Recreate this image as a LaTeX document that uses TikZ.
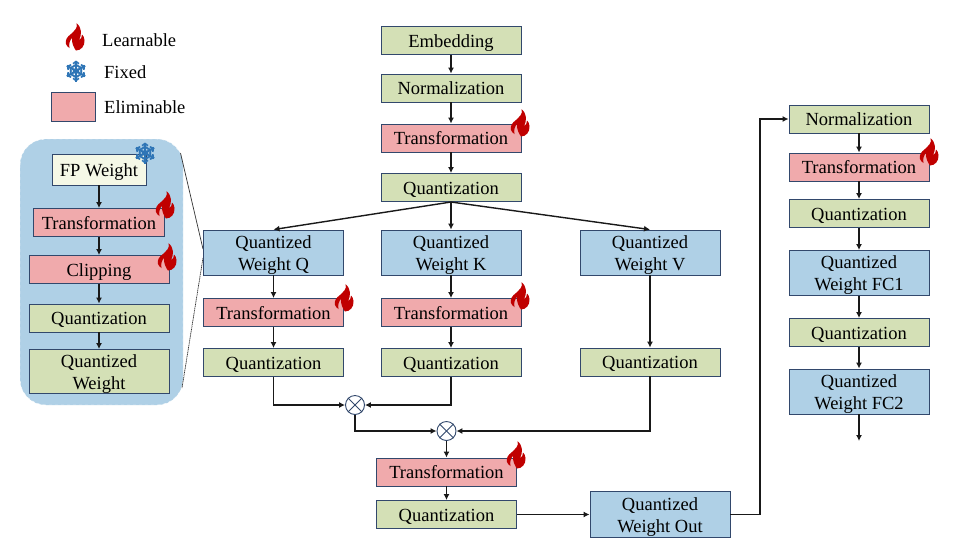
\documentclass[tikz,border=0pt]{standalone}
\usepackage{fontspec}
\setmainfont{Liberation Serif}
\usetikzlibrary{arrows.meta}
\definecolor{gfill}{RGB}{212,224,182}
\definecolor{rfill}{RGB}{240,170,172}
\definecolor{bfill}{RGB}{175,208,230}
\definecolor{edgec}{RGB}{50,72,108}
\definecolor{yfill}{RGB}{245,248,230}
\definecolor{flamec}{RGB}{192,0,0}
\definecolor{snowc}{RGB}{46,117,182}
\tikzset{
  x=1pt,y=-1pt,
  basebox/.style={draw=edgec,line width=0.9pt,align=center,inner sep=0pt,font=\fontsize{18.5}{22}\selectfont,text height=15pt,text depth=2pt},
  twoline/.style={text height=37.5pt,text depth=2pt},
  gbox/.style={basebox,fill=gfill},
  rbox/.style={basebox,fill=rfill},
  bbox/.style={basebox,fill=bfill},
  ybox/.style={basebox,fill=yfill},
  arr/.style={-{Latex[length=6pt,width=6pt]},line width=1.4pt,black!90},
  lab/.style={font=\fontsize{18.5}{22}\selectfont,inner sep=0pt,anchor=west},
  otimes/.style={circle,draw=edgec,line width=0.9pt,minimum size=19pt,inner sep=0pt,fill=white},
  flame/.pic={
    \fill[flamec,even odd rule] (1.5,-14) .. controls (3,-9) and (0,-7) .. (-4,-3)
      .. controls (-8,0) and (-10,3) .. (-9,7)
      .. controls (-8.5,9) and (-7,10) .. (-5.5,11)
      .. controls (-6.5,7) and (-5,3) .. (-3,1)
      .. controls (-3.5,6) and (-1,11) .. (1,13.5)
      .. controls (6,13.5) and (10,9) .. (9.5,3)
      .. controls (9.3,0.5) and (8,-2) .. (7,-2.5)
      .. controls (7,0) and (6,2) .. (4,3.5)
      .. controls (7,-3) and (7,-9) .. (1.5,-14) -- cycle;
  },
  snow/.pic={
    \foreach \a in {30,90,...,330}{
      \begin{scope}[rotate=\a]
        \draw[snowc,line width=2.1pt] (0,0) -- (10.5,0);
        \draw[snowc,line width=1.6pt] (4,-3.4) -- (6.5,0) -- (4,3.4);
        \draw[snowc,line width=1.6pt] (7.3,-3) -- (9.5,0) -- (7.3,3);
      \end{scope}
    }
    \fill[snowc] (0,0) circle (3pt);
  },
}
\begin{document}
\begin{tikzpicture}
\useasboundingbox (0,0) rectangle (969,547);
\fill[white] (0,0) rectangle (969,547);
% legend
\pic at (75,37) {flame};
\pic at (76,71) {snow};
\node[draw=edgec,line width=0.9pt,fill=rfill,minimum width=44pt,minimum height=29pt,inner sep=0pt] (legbox) at (73.5,107) {};
\node[lab] (l1) at (102,40) {Learnable};
\node[lab] (l2) at (104,72) {Fixed};
\node[lab] (l3) at (104,107) {Eliminable};
% inset panel
\fill[bfill,rounded corners=26pt] (20,139) rectangle (183,405);
\draw[white,dashed,line width=0.4pt,rounded corners=26pt] (20,139) rectangle (183,405);
\coordinate (pt) at (180.5,153);
\coordinate (pb) at (182,388);
\coordinate (qt) at (203,249);
\coordinate (qb) at (203,258);
\draw[black!80,line width=0.7pt] (pt) -- (qt);
\draw[black!80,line width=0.7pt,dash pattern=on 1.2pt off 0.6pt] (qb) -- (pb);
% inset nodes
\node[ybox,minimum width=94pt,minimum height=31pt] (fp) at (99,169.5) {FP Weight};
\node[rbox,minimum width=131pt,minimum height=28pt] (it) at (99,222.5) {Transformation};
\node[rbox,minimum width=140pt,minimum height=28pt] (ic) at (99,269.5) {Clipping};
\node[gbox,minimum width=140pt,minimum height=28pt] (iq) at (99,318) {Quantization};
\node[gbox,twoline,minimum width=140pt,minimum height=44pt] (iw) at (99,371.5) {Quantized\\Weight};
\draw[arr] (fp) -- (it);
\draw[arr] (it) -- (ic);
\draw[arr] (ic) -- (iq);
\draw[arr] (iq) -- (iw);
% centre column
\node[gbox,minimum width=140pt,minimum height=28pt] (emb) at (451,40.5) {Embedding};
\node[gbox,minimum width=140pt,minimum height=28pt] (nrm) at (451,88) {Normalization};
\node[rbox,minimum width=140pt,minimum height=28pt] (tr0) at (451,138) {Transformation};
\node[gbox,minimum width=140pt,minimum height=28pt] (qz0) at (451,187.5) {Quantization};
\node[bbox,twoline,minimum width=140pt,minimum height=45pt] (wq) at (273.5,252.5) {Quantized\\Weight Q};
\node[bbox,twoline,minimum width=140pt,minimum height=45pt] (wk) at (451,252.5) {Quantized\\Weight K};
\node[bbox,twoline,minimum width=140pt,minimum height=45pt] (wv) at (650,252.5) {Quantized\\Weight V};
\node[rbox,minimum width=140pt,minimum height=28pt] (trq) at (273.5,312.5) {Transformation};
\node[rbox,minimum width=140pt,minimum height=28pt] (trk) at (451,312.5) {Transformation};
\node[gbox,minimum width=140pt,minimum height=28pt] (qzq) at (273.5,362.5) {Quantization};
\node[gbox,minimum width=140pt,minimum height=28pt] (qzk) at (451,362.5) {Quantization};
\node[gbox,minimum width=140pt,minimum height=28pt] (qzv) at (650,362) {Quantization};
\node[otimes] (m1) at (355,405) {};
\node[otimes] (m2) at (446.5,431) {};
\foreach \m in {m1,m2}{
  \draw[edgec,line width=0.9pt] (\m.north west) -- (\m.south east);
  \draw[edgec,line width=0.9pt] (\m.north east) -- (\m.south west);
}
\node[rbox,minimum width=140pt,minimum height=28pt] (tr1) at (446.5,472) {Transformation};
\node[gbox,minimum width=140pt,minimum height=28pt] (qz1) at (446.5,514.5) {Quantization};
\node[bbox,twoline,minimum width=140pt,minimum height=46pt] (wo) at (660,514.5) {Quantized\\Weight Out};
% right column
\node[gbox,minimum width=140pt,minimum height=28pt] (nr2) at (859,119) {Normalization};
\node[rbox,minimum width=140pt,minimum height=28pt] (tr2) at (859,167) {Transformation};
\node[gbox,minimum width=140pt,minimum height=28pt] (qz2) at (859,213.5) {Quantization};
\node[bbox,twoline,minimum width=140pt,minimum height=45pt] (fc1) at (859,273) {Quantized\\Weight FC1};
\node[gbox,minimum width=140pt,minimum height=28pt] (qz3) at (859,332.5) {Quantization};
\node[bbox,twoline,minimum width=140pt,minimum height=45pt] (fc2) at (859,391.5) {Quantized\\Weight FC2};
\coordinate (endp) at (859,441);
\coordinate (fan) at (451,202);
% connectors
\draw[arr] (emb) -- (nrm);
\draw[arr] (nrm) -- (tr0);
\draw[arr] (tr0) -- (qz0);
\draw[arr] (fan) -- (wq.north);
\draw[arr] (qz0) -- (wk);
\draw[arr] (fan) -- (wv.north);
\draw[arr] (wq) -- (trq);
\draw[arr] (wk) -- (trk);
\draw[arr] (trq) -- (qzq);
\draw[arr] (trk) -- (qzk);
\draw[arr] (wv) -- (qzv);
\draw[arr] (qzq.south) |- (m1.west);
\draw[arr] (qzk.south) |- (m1.east);
\draw[arr] (m1.south) |- (m2.west);
\draw[arr] (qzv.south) |- (m2.east);
\draw[arr] (m2) -- (tr1);
\draw[arr] (tr1) -- (qz1);
\draw[arr] (qz1) -- (wo);
\draw[arr] (wo.east) -| (760,119) -- (nr2.west);
\draw[arr] (nr2) -- (tr2);
\draw[arr] (tr2) -- (qz2);
\draw[arr] (qz2) -- (fc1);
\draw[arr] (fc1) -- (qz3);
\draw[arr] (qz3) -- (fc2);
\draw[arr] (fc2) -- (endp);
% badges
\pic at (145,153) {snow};
\pic at (165,205) {flame};
\pic at (167,257) {flame};
\pic at (520,123) {flame};
\pic at (344,298) {flame};
\pic at (520,296) {flame};
\pic at (516,455) {flame};
\pic at (929,152) {flame};
\end{tikzpicture}
\end{document}
